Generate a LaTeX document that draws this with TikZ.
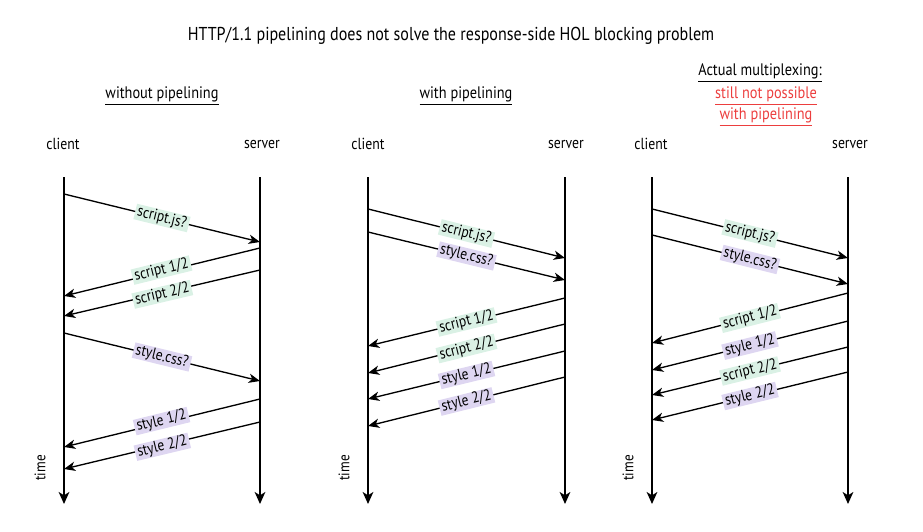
\documentclass[tikz,border=0pt]{standalone}
\usepackage{fontspec}
\setmainfont{PT Sans}[FakeStretch=0.86]
\usetikzlibrary{arrows.meta}
\definecolor{jsgreen}{RGB}{218,241,229}
\definecolor{csspurple}{RGB}{222,214,241}
\definecolor{notred}{RGB}{236,62,62}
\tikzset{
  lifeline/.style={black,line width=1.2pt,-{Stealth[length=9pt,width=8pt,inset=2.5pt]}},
  msg/.style={black,line width=1pt,-{Stealth[length=8.5pt,width=7pt,inset=2.5pt]}},
  jslbl/.style={fill=jsgreen,sloped,midway,inner xsep=1.8pt,inner ysep=0.5pt,
                font=\fontsize{11.8}{13}\selectfont},
  csslbl/.style={jslbl,fill=csspurple},
  who/.style={font=\fontsize{12}{14}\selectfont},
  heading/.style={font=\fontsize{12.5}{15}\selectfont},
  timelbl/.style={font=\fontsize{11.5}{13}\selectfont,rotate=90},
}

\begin{document}
\begin{tikzpicture}[x=0.75pt,y=-0.75pt]
  \path[use as bounding box] (0,0) rectangle (923,531);
  \node[font=\fontsize{14}{17}\selectfont] (title) at (451,36)
    {HTTP/1.1 pipelining does not solve the response-side HOL blocking problem};

  % without pipelining
  \node[heading] (head1) at (162,96) {\underline{without pipelining}};
  \node[who] (client1) at (63,144) {client};
  \node[who] (server1) at (262,144) {server};
  \coordinate (c1top) at (64,177);  \coordinate (c1bot) at (64,504);
  \coordinate (s1top) at (260,177); \coordinate (s1bot) at (260,504);
  \draw[lifeline] (c1top) -- (c1bot);
  \draw[lifeline] (s1top) -- (s1bot);
  \node[timelbl] (time1) at (40,468) {time};

  \coordinate (c1a) at (64,194);  \coordinate (s1a) at (260,242);
  \coordinate (s1b) at (260,248); \coordinate (c1b) at (64,296);
  \coordinate (s1c) at (260,270); \coordinate (c1c) at (64,316);
  \coordinate (c1d) at (64,333);  \coordinate (s1d) at (260,381);
  \coordinate (s1e) at (260,399); \coordinate (c1e) at (64,447);
  \coordinate (s1f) at (260,422); \coordinate (c1f) at (64,469);
  \draw[msg] (c1a) -- node[jslbl] {script.js?} (s1a);
  \draw[msg] (s1b) -- node[jslbl,yshift=1.5pt] {script 1/2} (c1b);
  \draw[msg] (s1c) -- node[jslbl,yshift=-1pt] {script 2/2} (c1c);
  \draw[msg] (c1d) -- node[csslbl] {style.css?} (s1d);
  \draw[msg] (s1e) -- node[csslbl,yshift=1.5pt] {style 1/2} (c1e);
  \draw[msg] (s1f) -- node[csslbl,yshift=-1pt] {style 2/2} (c1f);

  % with pipelining
  \node[heading] (head2) at (466,96) {\underline{with pipelining}};
  \node[who] (client2) at (368,144) {client};
  \node[who] (server2) at (566,144) {server};
  \coordinate (c2top) at (368,177); \coordinate (c2bot) at (368,504);
  \coordinate (s2top) at (565,177); \coordinate (s2bot) at (565,504);
  \draw[lifeline] (c2top) -- (c2bot);
  \draw[lifeline] (s2top) -- (s2bot);
  \node[timelbl] (time2) at (344,468) {time};

  \coordinate (c2a) at (368,209); \coordinate (s2a) at (565,258);
  \coordinate (c2b) at (368,232); \coordinate (s2b) at (565,280);
  \coordinate (s2c) at (565,298); \coordinate (c2c) at (368,346);
  \coordinate (s2d) at (565,324); \coordinate (c2d) at (368,373);
  \coordinate (s2e) at (565,351); \coordinate (c2e) at (368,399);
  \coordinate (s2f) at (565,377); \coordinate (c2f) at (368,426);
  \draw[msg] (c2a) -- node[jslbl] {script.js?} (s2a);
  \draw[msg] (c2b) -- node[csslbl] {style.css?} (s2b);
  \draw[msg] (s2c) -- node[jslbl] {script 1/2} (c2c);
  \draw[msg] (s2d) -- node[jslbl] {script 2/2} (c2d);
  \draw[msg] (s2e) -- node[csslbl] {style 1/2} (c2e);
  \draw[msg] (s2f) -- node[csslbl] {style 2/2} (c2f);

  % actual multiplexing
  \node[heading] (head3) at (760,73) {\underline{Actual multiplexing:}};
  \node[heading,text=notred] (head3b) at (766,96) {\underline{still not possible}};
  \node[heading,text=notred] (head3c) at (766,117) {\underline{with pipelining}};
  \node[who] (client3) at (651,144) {client};
  \node[who] (server3) at (850,144) {server};
  \coordinate (c3top) at (652,177); \coordinate (c3bot) at (652,504);
  \coordinate (s3top) at (848,177); \coordinate (s3bot) at (848,504);
  \draw[lifeline] (c3top) -- (c3bot);
  \draw[lifeline] (s3top) -- (s3bot);
  \node[timelbl] (time3) at (628,468) {time};

  \coordinate (c3a) at (652,209); \coordinate (s3a) at (848,258);
  \coordinate (c3b) at (652,235); \coordinate (s3b) at (848,284);
  \coordinate (s3c) at (848,293); \coordinate (c3c) at (652,343);
  \coordinate (s3d) at (848,321); \coordinate (c3d) at (652,370);
  \coordinate (s3e) at (848,347); \coordinate (c3e) at (652,395);
  \coordinate (s3f) at (848,372); \coordinate (c3f) at (652,420);
  \draw[msg] (c3a) -- node[jslbl] {script.js?} (s3a);
  \draw[msg] (c3b) -- node[csslbl] {style.css?} (s3b);
  \draw[msg] (s3c) -- node[jslbl] {script 1/2} (c3c);
  \draw[msg] (s3d) -- node[csslbl] {style 1/2} (c3d);
  \draw[msg] (s3e) -- node[jslbl] {script 2/2} (c3e);
  \draw[msg] (s3f) -- node[csslbl] {style 2/2} (c3f);
\end{tikzpicture}
\end{document}
